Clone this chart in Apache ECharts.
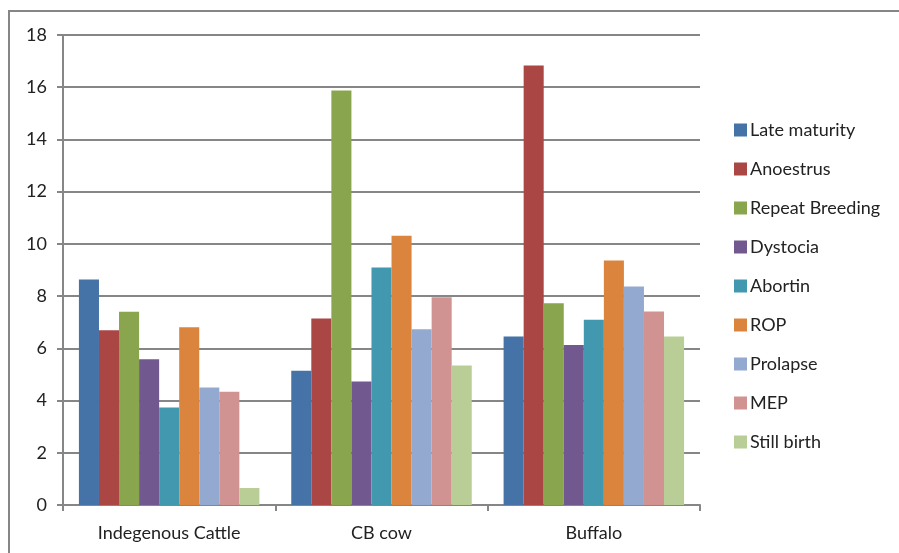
<!DOCTYPE html>
<html>
<head>
<meta charset="utf-8">
<script src="https://cdn.jsdelivr.net/npm/echarts@6/dist/echarts.min.js"></script>
<style>
  html, body { margin: 0; padding: 0; background: #fff; }
  #chart { width: 899px; height: 553px; }
</style>
</head>
<body>
<div id="chart"></div>
<script>
const categories = ['Indegenous Cattle', 'CB cow', 'Buffalo'];
const lateMaturity = [8.64, 5.14, 6.45];
const anoestrus = [6.69, 7.14, 16.83];
const repeatBreeding = [7.4, 15.87, 7.73];
const dystocia = [5.58, 4.73, 6.13];
const abortin = [3.73, 9.1, 7.09];
const rop = [6.81, 10.31, 9.36];
const prolapse = [4.5, 6.73, 8.37];
const mep = [4.34, 7.96, 7.41];
const stillBirth = [0.65, 5.34, 6.45];
const yTicks = [0, 2, 4, 6, 8, 10, 12, 14, 16, 18];

const seriesDefs = [
  ['Late maturity', lateMaturity, '#4572A7'],
  ['Anoestrus', anoestrus, '#AA4643'],
  ['Repeat Breeding', repeatBreeding, '#89A54E'],
  ['Dystocia', dystocia, '#71588F'],
  ['Abortin', abortin, '#4198AF'],
  ['ROP', rop, '#DB843D'],
  ['Prolapse', prolapse, '#93A9CF'],
  ['MEP', mep, '#D19392'],
  ['Still birth', stillBirth, '#B9CD96'],
];

const font = 'Lato, "Open Sans", sans-serif';
const chart = echarts.init(document.getElementById('chart'));

chart.setOption({
  animation: false,
  textStyle: { fontFamily: font },
  graphic: [
    {
      type: 'rect',
      shape: { x: 9, y: 11, width: 1000, height: 1000 },
      style: { fill: 'none', stroke: '#868686', lineWidth: 2 },
      silent: true,
    },
  ],
  grid: { left: 63, right: 199, top: 35, bottom: 48 },
  legend: {
    orient: 'vertical',
    left: 729,
    top: 116,
    itemWidth: 13,
    itemHeight: 13,
    itemGap: 21,
    icon: 'rect',
    textStyle: { fontSize: 18, lineHeight: 18, color: '#222', fontFamily: font, padding: [0, 0, 0, -2] },
    data: seriesDefs.map((d) => d[0]),
  },
  xAxis: {
    type: 'category',
    data: categories,
    axisLine: { lineStyle: { color: '#868686', width: 2 } },
    axisTick: { show: true, length: 6, lineStyle: { color: '#868686', width: 2 } },
    axisLabel: { fontSize: 18, color: '#222', margin: 19, fontFamily: font },
  },
  yAxis: {
    type: 'value',
    min: yTicks[0],
    max: yTicks[yTicks.length - 1],
    interval: 2,
    axisLine: { show: true, lineStyle: { color: '#868686', width: 2 } },
    axisTick: { show: true, length: 6, lineStyle: { color: '#868686', width: 2 } },
    axisLabel: { fontSize: 18, color: '#222', margin: 16, fontFamily: font },
    splitLine: { lineStyle: { color: '#868686', width: 2 } },
  },
  series: seriesDefs.map(([name, values, color]) => ({
    name,
    type: 'bar',
    data: values,
    barGap: '0%',
    barCategoryGap: '15%',
    itemStyle: { color },
  })),
});
</script>
</body>
</html>
